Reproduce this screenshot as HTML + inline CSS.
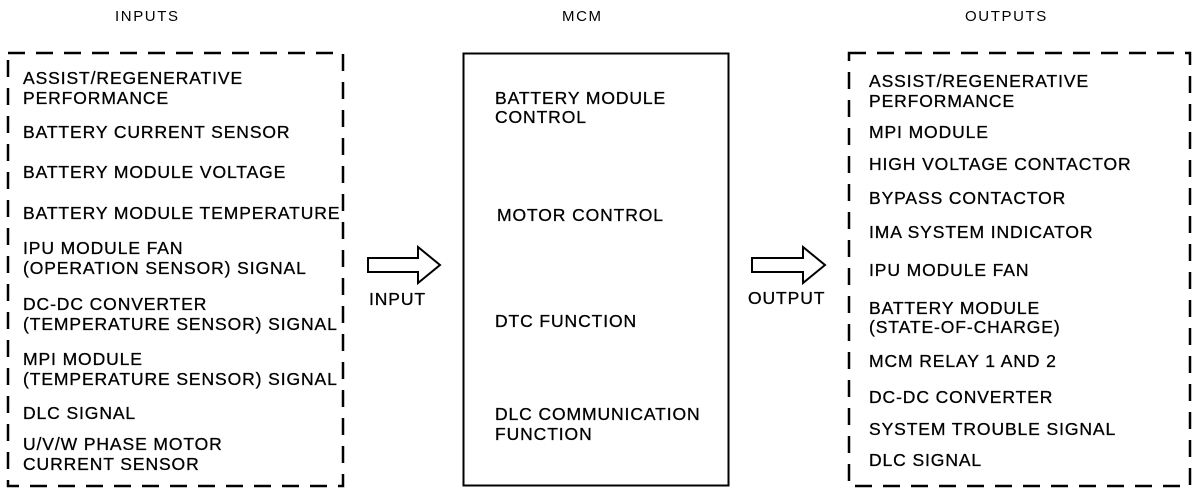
<!DOCTYPE html>
<html><head><style>body{margin:0;background:#fff}</style></head><body>
<svg width="1200" height="496" xmlns="http://www.w3.org/2000/svg" font-family="Liberation Sans, Arial, sans-serif" font-size="17.5" letter-spacing="0.9" fill="#000">
<g stroke="#000" stroke-width="2.5" fill="none">
<rect x="8" y="53" width="335" height="433" stroke-dasharray="17,11"/>
<rect x="463.5" y="53.5" width="265" height="432" stroke-width="2"/>
<rect x="849" y="53" width="341" height="433" stroke-dasharray="17,11"/>
<path d="M368 258 H418 V247 L440 265 L418 283 V272 H368 Z" stroke-width="2"/>
<path d="M752 258 H803 V247 L825 265 L803 283 V272 H752 Z" stroke-width="2"/>
</g>
<g font-size="15" letter-spacing="1.6">
<text x="115" y="21">INPUTS</text>
<text x="562" y="21">MCM</text>
<text x="965" y="21">OUTPUTS</text>
</g>
<g stroke="#000" stroke-width="0.3">
<text x="369" y="305">INPUT</text>
<text x="748" y="304">OUTPUT</text>
<text x="23" y="84">ASSIST/REGENERATIVE</text>
<text x="23" y="104">PERFORMANCE</text>
<text x="23" y="138">BATTERY CURRENT SENSOR</text>
<text x="23" y="178">BATTERY MODULE VOLTAGE</text>
<text x="23" y="219">BATTERY MODULE TEMPERATURE</text>
<text x="23" y="254">IPU MODULE FAN</text>
<text x="23" y="274">(OPERATION SENSOR) SIGNAL</text>
<text x="23" y="310">DC-DC CONVERTER</text>
<text x="23" y="330">(TEMPERATURE SENSOR) SIGNAL</text>
<text x="23" y="365">MPI MODULE</text>
<text x="23" y="385">(TEMPERATURE SENSOR) SIGNAL</text>
<text x="23" y="419">DLC SIGNAL</text>
<text x="23" y="450">U/V/W PHASE MOTOR</text>
<text x="23" y="470">CURRENT SENSOR</text>

<text x="495" y="104">BATTERY MODULE</text>
<text x="495" y="123">CONTROL</text>
<text x="497" y="221">MOTOR CONTROL</text>
<text x="495" y="327">DTC FUNCTION</text>
<text x="495" y="420">DLC COMMUNICATION</text>
<text x="495" y="440">FUNCTION</text>

<text x="869" y="87">ASSIST/REGENERATIVE</text>
<text x="869" y="107">PERFORMANCE</text>
<text x="869" y="138">MPI MODULE</text>
<text x="869" y="170">HIGH VOLTAGE CONTACTOR</text>
<text x="869" y="204">BYPASS CONTACTOR</text>
<text x="869" y="238">IMA SYSTEM INDICATOR</text>
<text x="869" y="276">IPU MODULE FAN</text>
<text x="869" y="314">BATTERY MODULE</text>
<text x="869" y="333">(STATE-OF-CHARGE)</text>
<text x="869" y="367">MCM RELAY 1 AND 2</text>
<text x="869" y="403">DC-DC CONVERTER</text>
<text x="869" y="435">SYSTEM TROUBLE SIGNAL</text>
<text x="869" y="466">DLC SIGNAL</text>
</g>
</svg>
</body></html>
